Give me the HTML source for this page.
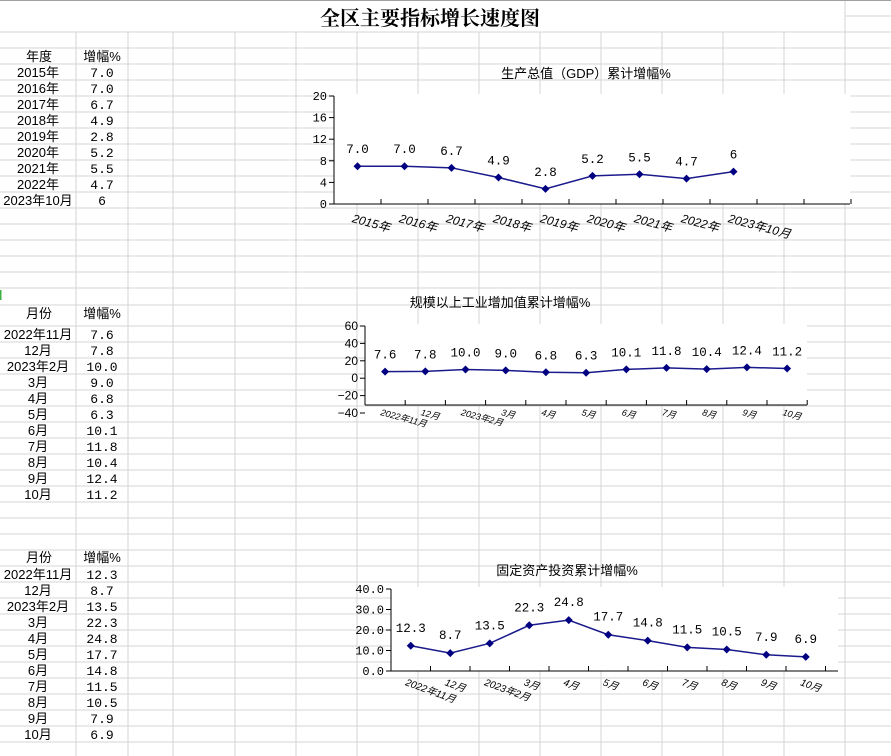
<!DOCTYPE html>
<html><head><meta charset="utf-8"><style>
html,body{margin:0;padding:0;background:#fff;}
svg{display:block;font-family:"Liberation Sans","Noto Sans CJK SC",sans-serif;}
.m{font-family:"Liberation Mono","Noto Sans CJK SC",monospace;}
</style></head><body>
<svg id="s" width="891" height="756" viewBox="0 0 891 756" xmlns="http://www.w3.org/2000/svg">
<g id="grid"></g>
<g id="tables"></g>
<g id="charts"></g>
<text x="430" y="25" text-anchor="middle" font-size="20" font-weight="bold" font-family="'Noto Serif CJK SC',serif">全区主要指标增长速度图</text>
</svg>
<script>
// ---- data ----
const gdpCats = ["2015年","2016年","2017年","2018年","2019年","2020年","2021年","2022年","2023年10月"];
const gdpVals = [7.0,7.0,6.7,4.9,2.8,5.2,5.5,4.7,6];
const gdpLabels = ["7.0","7.0","6.7","4.9","2.8","5.2","5.5","4.7","6"];
const gdpTicks = [0,4,8,12,16,20];

const indCats = ["2022年11月","12月","2023年2月","3月","4月","5月","6月","7月","8月","9月","10月"];
const indVals = [7.6,7.8,10.0,9.0,6.8,6.3,10.1,11.8,10.4,12.4,11.2];
const indLabels = ["7.6","7.8","10.0","9.0","6.8","6.3","10.1","11.8","10.4","12.4","11.2"];
const indTicks = [-40,-20,0,20,40,60];

const invCats = ["2022年11月","12月","2023年2月","3月","4月","5月","6月","7月","8月","9月","10月"];
const invVals = [12.3,8.7,13.5,22.3,24.8,17.7,14.8,11.5,10.5,7.9,6.9];
const invLabels = ["12.3","8.7","13.5","22.3","24.8","17.7","14.8","11.5","10.5","7.9","6.9"];
const invTicks = ["0.0","10.0","20.0","30.0","40.0"];

const NS="http://www.w3.org/2000/svg";
function mk(tag,attrs,parent,txt){const e=document.createElementNS(NS,tag);for(const k in attrs)e.setAttribute(k,attrs[k]);if(txt!==undefined)e.textContent=txt;parent.appendChild(e);return e;}

// ---- grid ----
const grid=document.getElementById('grid');
const cols=[76,128,173,235,296,357,418,479,540,601,662,723,784,845];
const rows=[32,48,64,80,96,112,128,144,160,176,192,208,224,240,256,272,288,305,326,342,358,374,390,406,422,438,454,470,486,502,518,534,550,566,582,598,614,630,646,662,678,694,710,726,742];
rows.forEach(y=>{mk('line',{x1:0,x2:891,y1:y,y2:y,stroke:'#d4d4d4','stroke-width':1},grid);});
cols.forEach(x=>{mk('line',{x1:x,x2:x,y1:x===845?0:32,y2:756,stroke:'#d4d4d4','stroke-width':1},grid);});
mk('line',{x1:845,x2:891,y1:16,y2:16,stroke:'#d4d4d4'},grid);
mk('rect',{x:0,y:0,width:891,height:32,fill:'none'},grid);
mk('line',{x1:0,x2:891,y1:0.5,y2:0.5,stroke:'#a0a0a0'},grid);
mk('line',{x1:0.5,x2:0.5,y1:290,y2:300,stroke:'#3cb043','stroke-width':2},grid);

// ---- tables ----
const tb=document.getElementById('tables');
function table(name,h1,rowsTop,headerY,cats,labels){
  const g=mk('g',{},tb);
  
  
  const a=mk('text',{x:39,y:headerY,'text-anchor':'middle','font-size':13},g,h1);
  
  const b=mk('text',{x:102,y:headerY,'text-anchor':'middle','font-size':13},g,'增幅%');
  
  cats.forEach((c,i)=>{
    const t=mk('text',{x:38,y:rowsTop+16*i+13,'text-anchor':'middle','font-size':13},g,c);
    
    const v=mk('text',{x:102,y:rowsTop+16*i+13,'text-anchor':'middle','font-size':13,class:'m'},g,labels[i]);
    
  });
}
table('gdp-table','年度',64,61,gdpCats,gdpLabels);
table('industry-table','月份',326,318,indCats,indLabels);
table('investment-table','月份',566,562,invCats,invLabels);

// ---- charts ----
const ch=document.getElementById('charts');
function chart(o){
  const g=mk('g',{},ch);
  
  
  const y=v=>o.y0+(v-o.vmin)/(o.vmax-o.vmin)*(o.y1-o.y0);
  const xc=i=>o.x0+o.cw*(i+0.5);
  mk('rect',{x:o.x0,y:o.y1-2,width:o.xend-o.x0,height:o.axisY-o.y1+2,fill:'#fff'},g);
  const tt=mk('text',{x:o.tx,y:o.ty,'text-anchor':'middle','font-size':13},g,o.title);
  
  // y axis
  mk('line',{x1:o.x0,x2:o.x0,y1:o.y1,y2:o.axisY,stroke:'#000'},g);
  o.ticks.forEach(t=>{
    const v=parseFloat(t),yy=y(v);
    mk('line',{x1:o.x0-5,x2:o.x0,y1:yy,y2:yy,stroke:'#000'},g);
    const l=mk('text',{x:o.x0-7,y:yy+4,'text-anchor':'end','font-size':12,class:o.mono?'m':''},g,String(t).replace('-','−'));
    
  });
  // x axis
  mk('line',{x1:o.x0,x2:o.xend,y1:o.axisY,y2:o.axisY,stroke:'#000'},g);
  for(let k=1;k<=o.ncat;k++){const xx=o.x0+o.cw*k;if(xx<=o.xend+1)mk('line',{x1:xx,x2:xx,y1:o.axisY-5,y2:o.axisY,stroke:'#000'},g);}
  o.cats.forEach((c,i)=>{
    const lx=xc(i)+o.lx,ly=o.axisY+o.ly;
    const l=mk('text',{x:lx,y:ly,'font-size':o.lfs,transform:`rotate(${o.rot} ${lx} ${ly})`,'font-style':'italic'},g,c);
    
  });
  // line
  const pts=o.vals.map((v,i)=>xc(i)+','+y(v)).join(' ');
  const pl=mk('polyline',{points:pts,fill:'none',stroke:'#1a1a8c','stroke-width':1.5},g);
  
  o.vals.forEach((v,i)=>{
    const cx=xc(i),cy=y(v);
    const d=mk('polygon',{points:`${cx},${cy-4} ${cx+4},${cy} ${cx},${cy+4} ${cx-4},${cy}`,fill:'#000080'},g);
    
    const t=mk('text',{x:cx,y:cy-o.dl,'text-anchor':'middle','font-size':12.5,class:'m'},g,o.labels[i]);
    
  });
}
chart({name:'gdp-chart',title:'生产总值（GDP）累计增幅%',tx:586,ty:78,x0:334,xend:850,cw:47,ncat:11,y0:204,y1:96,axisY:204,vmin:0,vmax:20,
  ticks:gdpTicks,cats:gdpCats,vals:gdpVals,labels:gdpLabels,lx:-6,ly:18,rot:15,lfs:12,dl:13,mono:true});
chart({name:'industry-chart',title:'规模以上工业增加值累计增幅%',tx:500,ty:307,x0:365,xend:807,cw:40.2,ncat:11,y0:413,y1:326,axisY:405,vmin:-40,vmax:60,
  ticks:indTicks,cats:indCats,vals:indVals,labels:indLabels,lx:-5,ly:10,rot:15,lfs:9,dl:13,mono:false});
chart({name:'investment-chart',title:'固定资产投资累计增幅%',tx:567,ty:575,x0:391,xend:838,cw:39.5,ncat:11,y0:671,y1:589,axisY:671,vmin:0,vmax:40,
  ticks:invTicks,cats:invCats,vals:invVals,labels:invLabels,lx:-6,ly:14,rot:20,lfs:10,dl:14,mono:true});
</script>
</body></html>
